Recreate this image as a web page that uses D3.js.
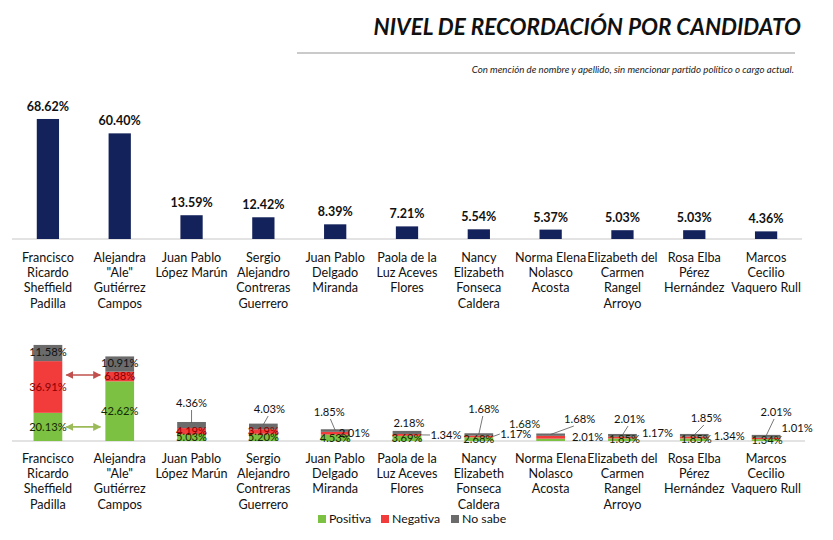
<!DOCTYPE html>
<html><head><meta charset="utf-8">
<script src="https://cdn.jsdelivr.net/npm/d3@7"></script>
<style>
body{margin:0;background:#fff;}
svg{display:block;font-family:Lato, "Open Sans", sans-serif;}
</style></head>
<body><svg id="c" width="833" height="540"></svg>
<script>
const categories = [
  "Francisco|Ricardo|Sheffield|Padilla",
  "Alejandra|\"Ale\"|Gutiérrez|Campos",
  "Juan Pablo|López Marún",
  "Sergio|Alejandro|Contreras|Guerrero",
  "Juan Pablo|Delgado|Miranda",
  "Paola de la|Luz Aceves|Flores",
  "Nancy|Elizabeth|Fonseca|Caldera",
  "Norma Elena|Nolasco|Acosta",
  "Elizabeth del|Carmen|Rangel|Arroyo",
  "Rosa Elba|Pérez|Hernández",
  "Marcos|Cecilio|Vaquero Rull"
];
const recall   = [68.62, 60.40, 13.59, 12.42, 8.39, 7.21, 5.54, 5.37, 5.03, 5.03, 4.36];
const positiva = [20.13, 42.62, 5.03, 5.20, 4.53, 3.69, 2.68, 1.68, 1.85, 1.85, 1.34];
const negativa = [36.91, 6.88, 4.19, 3.19, 2.01, 1.34, 1.17, 2.01, 1.17, 1.34, 1.01];
const noSabe   = [11.58, 10.91, 4.36, 4.03, 1.85, 2.18, 1.68, 1.68, 2.01, 1.85, 2.01];
const seriesNames = ["Positiva", "Negativa", "No sabe"];
const title = "NIVEL DE RECORDACIÓN POR CANDIDATO";
const subtitle = "Con mención de nombre y apellido, sin mencionar partido político o cargo actual.";

// layout (label placement offsets for small stacked bars, relative to bar centre / baseline)
const nsOff  = [null,null,[0,-38],[6,-32],[-6,-29],[2,-18],[5,-32],[29,-22],[7,-22],[12,-23],[10,-29]];
const negOff = [null,null,null,null,[19,-8],[39,-6],[37,-7],[37,-4],[35,-8],[35,-5],[31,-13]];
const posOff = [null,null,null,null,[0,-3],[0,-3],[0,-2],[-26,-17],[2,-2],[2,-2],[1,-1]];

const colors = {nav:"#13225a", pos:"#7cc142", neg:"#f23b3b", ns:"#6b6b6b"};
const svg = d3.select("#c");
const fmt = v => v.toFixed(2) + "%";

// Title
svg.append("text").attr("x",801).attr("y",35).attr("text-anchor","end")
  .attr("font-size",22.5).attr("font-weight","bold").attr("font-style","italic").attr("fill","#111").text(title);
svg.append("line").attr("x1",297).attr("x2",795).attr("y1",53).attr("y2",53).attr("stroke","#b8b8b8").attr("stroke-width",1.5);
svg.append("text").attr("x",794).attr("y",73).attr("text-anchor","end")
  .attr("font-size",9.7).attr("font-style","italic").attr("fill","#222").text(subtitle);

const x = d3.scaleBand().domain(categories).range([12, 802]).padding(0);
const cx = c => x(c) + x.bandwidth()/2;

// ---------- Top chart ----------
const yT = d3.scaleLinear().domain([0, 70]).range([239, 239 - 70*1.749]);
const wT = x.step()*0.31;
const gT = svg.append("g");
gT.append("line").attr("x1",12).attr("x2",802).attr("y1",yT(0)).attr("y2",yT(0)).attr("stroke","#c8c8c8").attr("stroke-width",1.2);
gT.selectAll("rect").data(categories).join("rect")
  .attr("x", c => cx(c) - wT/2).attr("width", wT)
  .attr("y", (c,i) => yT(recall[i])).attr("height", (c,i) => yT(0) - yT(recall[i]))
  .attr("fill", colors.nav);
gT.selectAll("text.v").data(categories).join("text").attr("class","v")
  .attr("x", c => cx(c)).attr("y", (c,i) => yT(recall[i]) - 8)
  .attr("text-anchor","middle").attr("font-size",12.5).attr("font-weight","bold").attr("fill","#111")
  .text((c,i) => fmt(recall[i]));

function catLabels(g, y0){
  const t = g.selectAll("text.cat").data(categories).join("text").attr("class","cat")
    .attr("x", c => cx(c)).attr("text-anchor","middle").attr("font-size",12.6).attr("fill","#111");
  t.each(function(c){
    const el = d3.select(this);
    c.split("|").forEach((ln,j) => el.append("tspan").attr("x", cx(c)).attr("y", y0 + j*15.4).text(ln));
  });
}
catLabels(gT, 261.5);

// ---------- Bottom chart ----------
const yB = d3.scaleLinear().domain([0, 70]).range([441, 441 - 70*1.4]);
const wB = x.step()*0.40;
const gB = svg.append("g");
gB.append("line").attr("x1",12).attr("x2",805).attr("y1",yB(0)).attr("y2",yB(0)).attr("stroke","#c8c8c8").attr("stroke-width",1.2);

const stackData = categories.map((c,i) => ({cat:c, Positiva:positiva[i], Negativa:negativa[i], "No sabe":noSabe[i]}));
const stacked = d3.stack().keys(seriesNames)(stackData);
const segCol = {"Positiva":colors.pos, "Negativa":colors.neg, "No sabe":colors.ns};
gB.selectAll("g.s").data(stacked).join("g").attr("class","s").attr("fill", s => segCol[s.key])
  .selectAll("rect").data(s => s).join("rect")
  .attr("x", d => cx(d.data.cat) - wB/2).attr("width", wB)
  .attr("y", d => yB(d[1])).attr("height", d => yB(d[0]) - yB(d[1]));

// arrows between first two bars
const defs = svg.append("defs");
[["ar","#c0504d"],["ag","#9bbb59"]].forEach(([id,col]) => {
  const m = defs.append("marker").attr("id",id).attr("viewBox","0 0 10 10").attr("refX",9).attr("refY",5)
    .attr("markerWidth",5).attr("markerHeight",5).attr("orient","auto-start-reverse");
  m.append("path").attr("d","M0,0L10,5L0,10z").attr("fill",col);
});
const c0 = categories[0], c1 = categories[1];
const ax1 = cx(c0) + wB/2 + 4, ax2 = cx(c1) - wB/2 - 5;
svg.append("line").attr("x1",ax1).attr("x2",ax2).attr("y1",375).attr("y2",375)
  .attr("stroke","#c0504d").attr("stroke-width",1.6).attr("marker-start","url(#ar)").attr("marker-end","url(#ar)");
svg.append("line").attr("x1",ax1).attr("x2",ax2).attr("y1",yB(positiva[0]/2)).attr("y2",yB(positiva[0]/2))
  .attr("stroke","#9bbb59").attr("stroke-width",1.6).attr("marker-start","url(#ag)").attr("marker-end","url(#ag)");

// data labels
const lbl = gB.append("g").attr("font-size",11.2).attr("text-anchor","middle");
categories.forEach((c,i) => {
  const px = cx(c), base = yB(0);
  const segMid = (lo,hi) => (yB(lo)+yB(hi))/2;
  let pp = posOff[i] ? [px+posOff[i][0], base+posOff[i][1]] : [px, segMid(0,positiva[i])];
  lbl.append("text").attr("x",pp[0]).attr("y",pp[1]).attr("dy","0.35em").attr("fill","#142a05").text(fmt(positiva[i]));
  if (negOff[i]) {
    lbl.append("text").attr("x",px+negOff[i][0]).attr("y",base+negOff[i][1]).attr("dy","0.35em").attr("fill","#111").text(fmt(negativa[i]));
    if (i===5 || i===6) {
      lbl.append("line").attr("x1",px+wB/2).attr("x2",px+negOff[i][0]-16).attr("y1",yB(positiva[i]+negativa[i]/2))
        .attr("y2",base+negOff[i][1]).attr("stroke","#555").attr("stroke-width",0.8);
    }
  } else {
    lbl.append("text").attr("x",px).attr("y",segMid(positiva[i],positiva[i]+negativa[i])).attr("dy","0.35em")
      .attr("fill","#8a0000").text(fmt(negativa[i]));
  }
  const top = positiva[i]+negativa[i]+noSabe[i];
  if (nsOff[i]) {
    const lx = px+nsOff[i][0], ly = base+nsOff[i][1];
    lbl.append("text").attr("x",lx).attr("y",ly).attr("dy","0.35em").attr("fill","#111").text(fmt(noSabe[i]));
    if (i!==5) lbl.append("line").attr("x1",lx - nsOff[i][0]*0.2).attr("y1",ly+7).attr("x2",px).attr("y2",yB(top)+1)
      .attr("stroke","#555").attr("stroke-width",0.8);
  } else {
    lbl.append("text").attr("x",px).attr("y",yB(top)+7).attr("dy","0.35em").attr("fill","#111").text(fmt(noSabe[i]));
  }
});

catLabels(gB, 462.5);

// legend
const lg = svg.append("g").attr("font-size",12.3);
const legX = [318, 381, 451];
seriesNames.forEach((s,k) => {
  lg.append("rect").attr("x",legX[k]).attr("y",515).attr("width",8).attr("height",8).attr("fill",segCol[s]);
  lg.append("text").attr("x",legX[k]+11).attr("y",519).attr("dy","0.35em").attr("fill","#111").text(s);
});
</script></body></html>
